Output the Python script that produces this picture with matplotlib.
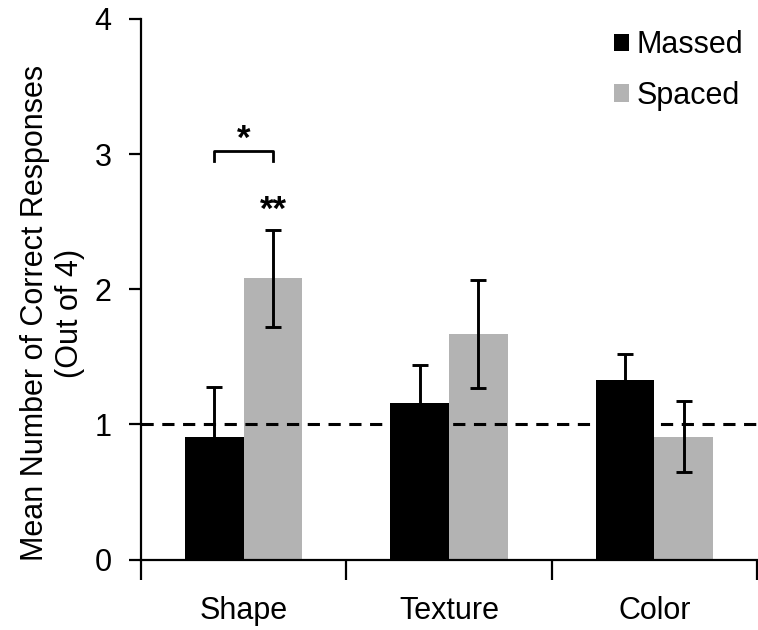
import matplotlib
matplotlib.use("Agg")
import matplotlib.pyplot as plt
import numpy as np

categories = ["Shape", "Texture", "Color"]
series_names = ["Massed", "Spaced"]
massed = [0.91, 1.16, 1.33]
massed_err = [0.37, 0.28, 0.19]
spaced = [2.08, 1.67, 0.91]
spaced_err = [0.36, 0.40, 0.265]
chance_level = 1.0
y_ticks = [0, 1, 2, 3, 4]

plt.rcParams['font.family'] = ['Liberation Sans', 'DejaVu Sans']
FS = 22

fig = plt.figure(figsize=(7.58, 6.30), dpi=100)
ax = fig.add_axes([141/758, (630-559.5)/630, (757-141)/758, (559.5-19)/630])

x = np.arange(len(categories))
w = 0.286
ax.bar(x - w/2, massed, w, color='black', label=series_names[0], zorder=2)
ax.bar(x + w/2, spaced, w, color='#b3b3b3', label=series_names[1], zorder=2)
ax.errorbar(x - w/2, massed, yerr=massed_err, fmt='none', ecolor='black',
            elinewidth=2.1, capsize=6, capthick=2.1, zorder=3)
ax.errorbar(x + w/2, spaced, yerr=spaced_err, fmt='none', ecolor='black',
            elinewidth=2.1, capsize=6, capthick=2.1, zorder=3)

ax.axhline(chance_level, color='black', lw=2.2, ls=(0, (4, 2.8)), zorder=4)

ax.set_xlim(-0.5, len(categories) - 0.5)
ax.set_ylim(0, 4)
ax.set_yticks(y_ticks)
ax.set_yticklabels([str(t) for t in y_ticks], fontsize=FS)
ax.tick_params(axis='y', length=8.6, width=1.6, pad=12.5, direction='out')

ax.set_xticks(x)
ax.set_xticklabels(categories, fontsize=FS)
ax.tick_params(axis='x', which='major', length=0, pad=26)
ax.set_xticks(np.arange(len(categories) + 1) - 0.5, minor=True)
ax.tick_params(axis='x', which='minor', length=14.5, width=1.6, direction='out')

for s in ['top', 'right']:
    ax.spines[s].set_visible(False)
for s in ['left', 'bottom']:
    ax.spines[s].set_linewidth(1.6)

fig.text(85/758, (630-313)/630, "Mean Number of Correct Responses\n(Out of 4)",
         rotation=90, ha='right', va='center', fontsize=FS, linespacing=1.2,
         multialignment='center')

# significance annotations
bx0, bx1 = x[0] - w/2, x[0] + w/2
ax.plot([bx0, bx0, bx1, bx1], [2.95, 3.02, 3.02, 2.95], color='black', lw=2.0,
        zorder=5, clip_on=False)
ax.text(x[0], 3.04, "*", ha='center', va='baseline', fontsize=25, fontweight='bold')
ax.text(x[0] + w/2, 2.51, "**", ha='center', va='baseline', fontsize=25, fontweight='bold')

fig.legend(loc='upper left', bbox_to_anchor=(614/758, (630-30.4)/630),
           frameon=False, fontsize=FS, handlelength=0.5, handleheight=0.5,
           handletextpad=0.25, labelspacing=0.665, borderaxespad=0, borderpad=0)

fig.savefig("out.png", dpi=100)
